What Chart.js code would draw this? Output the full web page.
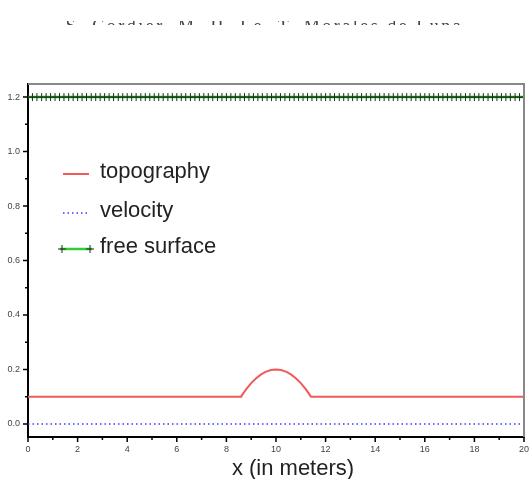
<!DOCTYPE html>
<html>
<head>
<meta charset="utf-8">
<script src="https://cdn.jsdelivr.net/npm/chart.js@4.4.1/dist/chart.umd.min.js"></script>
<style>
  html, body { margin: 0; padding: 0; background: #fff; }
  #wrap { position: absolute; left: 0; top: 0; width: 529px; height: 479px; }
  #header { position: absolute; left: 0; top: 21px; width: 529px; height: 4px; overflow: hidden; }
  #header div { position: absolute; left: 0; top: -4px; width: 529px; text-align: center;
    font: 18px "Liberation Serif", serif; line-height: 18px; letter-spacing: 2.5px; color: #444; }
</style>
</head>
<body>
<div id="wrap"><canvas id="chart"></canvas></div>
<div id="header"><div>S. Cordier, M. H. Le, T. Morales de Luna</div></div>
<script>
// bump topography (m)
const topoX = [0, 8.59, 8.6, 8.8, 9.0, 9.2, 9.4, 9.6, 9.8, 10, 10.2, 10.4, 10.6, 10.8, 11.0, 11.2, 11.41, 20];
const topography = [0.1, 0.1, 0.102, 0.128, 0.15, 0.168, 0.182, 0.192, 0.198, 0.2, 0.198, 0.192, 0.182, 0.168, 0.15, 0.128, 0.1, 0.1];

// velocity stays at zero
const velX = [0, 20];
const velocity = [0, 0];

// free surface sample points
const freeX = [
  0, 0.18, 0.36, 0.55, 0.73, 0.91, 1.09, 1.27, 1.45, 1.64, 1.82,
  2, 2.18, 2.36, 2.55, 2.73, 2.91, 3.09, 3.27, 3.45, 3.64, 3.82,
  4, 4.18, 4.36, 4.55, 4.73, 4.91, 5.09, 5.27, 5.45, 5.64, 5.82,
  6, 6.18, 6.36, 6.55, 6.73, 6.91, 7.09, 7.27, 7.45, 7.64, 7.82,
  8, 8.18, 8.36, 8.55, 8.73, 8.91, 9.09, 9.27, 9.45, 9.64, 9.82,
  10, 10.18, 10.36, 10.55, 10.73, 10.91, 11.09, 11.27, 11.45, 11.64, 11.82,
  12, 12.18, 12.36, 12.55, 12.73, 12.91, 13.09, 13.27, 13.45, 13.64, 13.82,
  14, 14.18, 14.36, 14.55, 14.73, 14.91, 15.09, 15.27, 15.45, 15.64, 15.82,
  16, 16.18, 16.36, 16.55, 16.73, 16.91, 17.09, 17.27, 17.45, 17.64, 17.82,
  18, 18.18, 18.36, 18.55, 18.73, 18.91, 19.09, 19.27, 19.45, 19.64, 19.82,
  20
];
const freeSurface = [
  1.2, 1.2, 1.2, 1.2, 1.2, 1.2, 1.2, 1.2, 1.2, 1.2, 1.2,
  1.2, 1.2, 1.2, 1.2, 1.2, 1.2, 1.2, 1.2, 1.2, 1.2, 1.2,
  1.2, 1.2, 1.2, 1.2, 1.2, 1.2, 1.2, 1.2, 1.2, 1.2, 1.2,
  1.2, 1.2, 1.2, 1.2, 1.2, 1.2, 1.2, 1.2, 1.2, 1.2, 1.2,
  1.2, 1.2, 1.2, 1.2, 1.2, 1.2, 1.2, 1.2, 1.2, 1.2, 1.2,
  1.2, 1.2, 1.2, 1.2, 1.2, 1.2, 1.2, 1.2, 1.2, 1.2, 1.2,
  1.2, 1.2, 1.2, 1.2, 1.2, 1.2, 1.2, 1.2, 1.2, 1.2, 1.2,
  1.2, 1.2, 1.2, 1.2, 1.2, 1.2, 1.2, 1.2, 1.2, 1.2, 1.2,
  1.2, 1.2, 1.2, 1.2, 1.2, 1.2, 1.2, 1.2, 1.2, 1.2, 1.2,
  1.2, 1.2, 1.2, 1.2, 1.2, 1.2, 1.2, 1.2, 1.2, 1.2, 1.2,
  1.2
];

// ticks
const xMajor = [0, 2, 4, 6, 8, 10, 12, 14, 16, 18, 20];
const xMinor = [1, 3, 5, 7, 9, 11, 13, 15, 17, 19];
const yMajor = [0, 0.2, 0.4, 0.6, 0.8, 1.0, 1.2];
const yMinor = [0.1, 0.3, 0.5, 0.7, 0.9, 1.1];

const seriesNames = ['topography', 'velocity', 'free surface'];

const zip = (xs, ys) => xs.map((x, i) => ({ x: x, y: ys[i] }));
const isMajor = (list, v) => list.some(m => Math.abs(m - v) < 1e-6);

// tick marks (long for labelled, short for minor), top/right frame, title, legend
const frame = {
  id: 'frame',
  afterDraw(chart) {
    const ctx = chart.ctx, a = chart.chartArea;
    const xs = chart.scales.x, ys = chart.scales.y;
    ctx.save();
    ctx.strokeStyle = '#888';
    ctx.lineWidth = 2;
    ctx.beginPath();
    ctx.moveTo(a.left, a.top);
    ctx.lineTo(a.right, a.top);
    ctx.lineTo(a.right, a.bottom);
    ctx.stroke();
    ctx.strokeStyle = '#000';
    ctx.lineWidth = 1.5;
    ctx.beginPath();
    xs.ticks.forEach(t => {
      const px = xs.getPixelForValue(t.value);
      const len = isMajor(xMajor, t.value) ? 5 : 3;
      ctx.moveTo(px, a.bottom);
      ctx.lineTo(px, a.bottom + len);
    });
    ys.ticks.forEach(t => {
      const py = ys.getPixelForValue(t.value);
      const len = isMajor(yMajor, t.value) ? 5 : 3;
      ctx.moveTo(a.left, py);
      ctx.lineTo(a.left - len, py);
    });
    ctx.stroke();

    // axis title
    ctx.fillStyle = '#222';
    ctx.font = '22px "Liberation Sans", Arial, sans-serif';
    ctx.textAlign = 'center';
    ctx.textBaseline = 'alphabetic';
    ctx.fillText('x (in meters)', (a.left + a.right) / 2 + 17, a.bottom + 38);

    // legend inside plot
    const ds = chart.data.datasets;
    const x0 = a.left + 35, x1 = a.left + 61;
    const rows = [a.top + 88, a.top + 127, a.top + 163];
    ctx.textAlign = 'left';
    ctx.textBaseline = 'middle';
    ds.forEach((d, i) => {
      const y = rows[i];
      ctx.save();
      ctx.strokeStyle = d.borderColor;
      ctx.lineWidth = d.borderWidth;
      ctx.setLineDash(d.borderDash || []);
      ctx.beginPath();
      const l = i === 2 ? x0 - 3 : x0, r = i === 2 ? x1 + 3 : x1;
      ctx.moveTo(l, y + 2);
      ctx.lineTo(r, y + 2);
      ctx.stroke();
      ctx.setLineDash([]);
      if (d.pointStyle === 'cross') {
        ctx.strokeStyle = d.pointBorderColor;
        ctx.lineWidth = 1;
        [x0 - 1, x1 + 1].forEach(cx => {
          ctx.beginPath();
          ctx.moveTo(cx - 4, y + 2); ctx.lineTo(cx + 4, y + 2);
          ctx.moveTo(cx, y - 2); ctx.lineTo(cx, y + 6);
          ctx.stroke();
        });
      }
      ctx.restore();
      ctx.fillText(seriesNames[i], a.left + 72, y);
    });
    ctx.restore();
  }
};

new Chart(document.getElementById('chart'), {
  type: 'line',
  data: {
    datasets: [
      {
        label: seriesNames[0],
        data: zip(topoX, topography),
        borderColor: '#f05a5a',
        borderWidth: 2,
        pointRadius: 0,
        tension: 0
      },
      {
        label: seriesNames[1],
        data: zip(velX, velocity),
        borderColor: '#3a3aff',
        borderWidth: 1.5,
        borderDash: [1.5, 3],
        pointRadius: 0
      },
      {
        label: seriesNames[2],
        data: zip(freeX, freeSurface),
        borderColor: '#33cc33',
        borderWidth: 2.5,
        pointStyle: 'cross',
        pointRadius: 4,
        pointBorderWidth: 1,
        pointBorderColor: '#1a331a'
      }
    ]
  },
  options: {
    responsive: true,
    maintainAspectRatio: false,
    animation: false,
    layout: { padding: { top: 84, right: 4, left: 0, bottom: 0 } },
    plugins: { legend: { display: false }, tooltip: { enabled: false } },
    scales: {
      x: {
        type: 'linear',
        min: 0,
        max: 20,
        afterBuildTicks: s => { s.ticks = [...xMajor, ...xMinor].sort((p, q) => p - q).map(v => ({ value: v })); },
        afterFit: s => { s.height = 42; s.paddingLeft = 0; s.paddingRight = 0; },
        grid: { display: false, drawTicks: false },
        border: { display: true, color: '#000', width: 2 },
        ticks: {
          padding: 7,
          maxRotation: 0,
          autoSkip: false,
          color: '#444',
          font: { family: '"Liberation Sans", Arial, sans-serif', size: 9 },
          callback: v => isMajor(xMajor, v) ? String(v) : ''
        }
      },
      y: {
        min: -0.048,
        max: 1.248,
        afterBuildTicks: s => { s.ticks = [...yMajor, ...yMinor].sort((p, q) => p - q).map(v => ({ value: v })); },
        afterFit: s => { s.width = 28; s.paddingTop = 0; s.paddingBottom = 0; },
        grid: { display: false, drawTicks: false },
        border: { display: true, color: '#000', width: 2 },
        ticks: {
          padding: 8,
          autoSkip: false,
          color: '#444',
          font: { family: '"Liberation Sans", Arial, sans-serif', size: 9 },
          callback: v => isMajor(yMajor, v) ? v.toFixed(1) : ''
        }
      }
    }
  },
  plugins: [frame]
});
</script>
</body>
</html>
